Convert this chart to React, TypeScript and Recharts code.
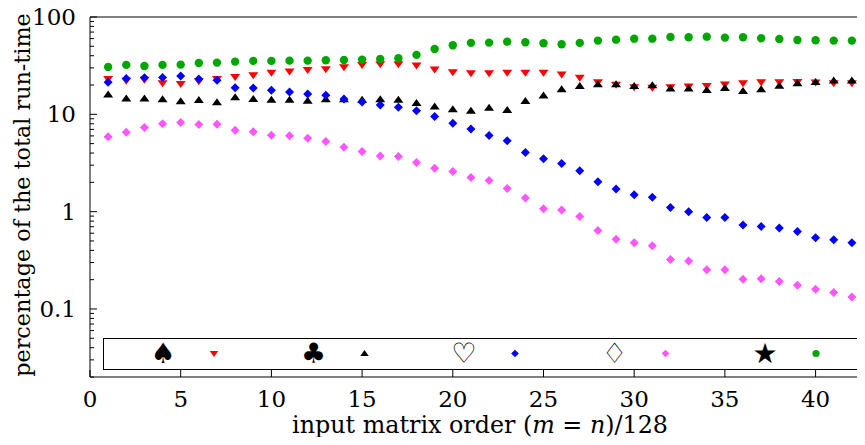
import { ScatterChart, Scatter, XAxis, YAxis, Legend } from 'recharts';

// matrix order (m = n) / 128
const matrixOrder = [
  1, 2, 3, 4, 5, 6, 7, 8, 9, 10, 11, 12, 13, 14, 15, 16, 17, 18, 19, 20, 21,
  22, 23, 24, 25, 26, 27, 28, 29, 30, 31, 32, 33, 34, 35, 36, 37, 38, 39, 40, 41, 42,
];

// percentage of the total run-time, one list per phase
const spadeShare = [
  23.0, 22.1, 22.6, 20.9, 20.5, 21.9, 23.0, 24.2, 25.2, 26.8, 27.5, 28.6, 29.1, 30.5, 32.2, 32.7, 32.7, 31.7, 28.8, 27.1, 26.5,
  26.5, 26.8, 26.8, 26.7, 25.6, 23.7, 21.4, 20.1, 19.0, 18.8, 19.0, 19.3, 19.6, 20.2, 20.9, 21.4, 21.4, 21.5, 21.2, 20.9, 20.9,
];
const clubShare = [
  16.0, 14.5, 14.5, 14.3, 13.65, 14.0, 13.3, 15.0, 14.4, 14.1, 14.1, 13.8, 14.3, 14.3, 14.1, 14.3, 14.1, 13.1, 12.0, 11.3, 10.9,
  11.7, 11.1, 13.7, 15.6, 18.1, 19.6, 20.4, 20.4, 19.6, 19.9, 18.4, 18.4, 17.8, 18.6, 17.4, 18.1, 19.7, 20.9, 21.5, 22.2, 22.2,
];
const heartShare = [
  21.4, 23.3, 23.7, 23.9, 24.8, 23.0, 22.4, 18.8, 18.6, 17.7, 17.0, 16.2, 15.7, 14.4, 13.4, 12.5, 11.85, 10.9, 9.5, 8.1, 7.05,
  6.05, 5.34, 4.05, 3.49, 3.12, 2.63, 2.03, 1.71, 1.49, 1.41, 1.10, 1.00, 0.872, 0.872, 0.729, 0.705, 0.679, 0.627, 0.540, 0.515, 0.480,
];
const diamondShare = [
  5.87, 6.56, 7.31, 7.98, 8.23, 7.85, 7.93, 6.88, 6.61, 6.11, 6.01, 5.69, 5.25, 4.60, 4.15, 3.72, 3.69, 3.20, 2.80, 2.59, 2.24,
  2.09, 1.73, 1.38, 1.07, 1.04, 0.893, 0.641, 0.519, 0.480, 0.447, 0.323, 0.311, 0.253, 0.253, 0.2015, 0.205, 0.192, 0.175, 0.159, 0.148, 0.133,
];
const starShare = [
  30.7, 32.2, 31.4, 32.2, 32.4, 33.7, 34.0, 34.8, 35.4, 35.4, 35.6, 35.6, 36.0, 36.2, 36.5, 37.1, 37.7, 40.8, 47.0, 51.3, 54.2,
  54.5, 55.8, 55.1, 53.8, 52.5, 54.2, 57.2, 58.5, 59.9, 59.9, 62.4, 62.0, 62.8, 61.4, 62.0, 60.5, 59.5, 58.1, 57.7, 57.2, 57.2,
];

const xTicks = [0, 5, 10, 15, 20, 25, 30, 35, 40];
const yMajor = [0.1, 1, 10, 100];
const yTicks = [
  0.02, 0.03, 0.04, 0.05, 0.06, 0.07, 0.08, 0.09,
  0.1, 0.2, 0.3, 0.4, 0.5, 0.6, 0.7, 0.8, 0.9,
  1, 2, 3, 4, 5, 6, 7, 8, 9,
  10, 20, 30, 40, 50, 60, 70, 80, 90, 100,
];

const SERIF = '"DejaVu Serif", "Liberation Serif", serif';
const FS = 23;

const toPoints = (vals: number[]) => vals.map((v, i) => ({ x: matrixOrder[i], y: v }));

// marker shapes (gnuplot-ish point types)
const downTri = (color: string, s = 1) => (p: any) => (
  <polygon points={`${p.cx - 5 * s},${p.cy - 3 * s} ${p.cx + 5 * s},${p.cy - 3 * s} ${p.cx},${p.cy + 4 * s}`} fill={color} />
);
const upTri = (color: string, s = 1) => (p: any) => (
  <polygon points={`${p.cx - 5 * s},${p.cy + 3 * s} ${p.cx + 5 * s},${p.cy + 3 * s} ${p.cx},${p.cy - 4 * s}`} fill={color} />
);
const diamond = (color: string, s = 1) => (p: any) => (
  <polygon points={`${p.cx},${p.cy - 4.5 * s} ${p.cx + 4.5 * s},${p.cy} ${p.cx},${p.cy + 4.5 * s} ${p.cx - 4.5 * s},${p.cy}`} fill={color} />
);
const dot = (color: string, s = 1) => (p: any) => <circle cx={p.cx} cy={p.cy} r={4.2 * s} fill={color} />;

const series = [
  { name: '♠', data: spadeShare, color: '#ff0000', shape: downTri },
  { name: '♣', data: clubShare, color: '#000000', shape: upTri },
  { name: '♡', data: heartShare, color: '#0000ff', shape: diamond },
  { name: '♢', data: diamondShare, color: '#ff55ff', shape: diamond },
  { name: '★', data: starShare, color: '#00a600', shape: dot },
];

function LeftTick({ x, y, payload }: any) {
  const major = yMajor.includes(payload.value);
  return (
    <g>
      <line x1={x} x2={x + (major ? 7 : 4)} y1={y} y2={y} stroke="#000" />
      {major && (
        <text x={x - 14} y={y + 8} textAnchor="end" fontFamily={SERIF} fontSize={FS} fill="#000">
          {String(payload.value)}
        </text>
      )}
    </g>
  );
}

function RightTick({ x, y, payload }: any) {
  const major = yMajor.includes(payload.value);
  return <line x1={x} x2={x - (major ? 7 : 4)} y1={y} y2={y} stroke="#000" />;
}

function BottomTick({ x, y, payload }: any) {
  return (
    <g>
      <line x1={x} x2={x} y1={y} y2={y - 7} stroke="#000" />
      <text x={x} y={y + 30} textAnchor="middle" fontFamily={SERIF} fontSize={FS} fill="#000">
        {payload.value}
      </text>
    </g>
  );
}

function TopTick({ x, y }: any) {
  return <line x1={x} x2={x} y1={y} y2={y + 7} stroke="#000" />;
}

// legend keeps the plotting order of the series
function LegendBox() {
  return (
    <svg width={756} height={33} style={{ display: 'block' }}>
      <rect x={0.5} y={0.5} width={754} height={31} fill="#fff" stroke="#000" />
      {series.map((s, i) => {
        const Marker = s.shape(s.color, 0.85);
        return (
          <g key={s.name}>
            <text x={60 + 150.5 * i} y={25} textAnchor="middle" fontFamily='"DejaVu Sans", sans-serif' fontSize={28} fill="#000">
              {s.name}
            </text>
            <Marker cx={111 + 150.5 * i} cy={15.5} />
          </g>
        );
      })}
    </svg>
  );
}

export default function App() {
  return (
    <div style={{ margin: -8, width: 865, height: 445, overflow: 'hidden', background: '#fff' }}>
      <ScatterChart width={880} height={445} margin={{ top: 16, right: 9, bottom: 8, left: 0 }}>
        <XAxis
          xAxisId="b"
          type="number"
          dataKey="x"
          domain={[0, 43]}
          ticks={xTicks}
          interval={0}
          height={60}
          tickSize={0}
          tickMargin={0}
          tickLine={false}
          axisLine={{ stroke: '#000' }}
          tick={<BottomTick />}
          label={{
            content: (props: any) => {
              const vb = props.viewBox;
              return (
                <text x={vb.x + vb.width / 2} y={vb.y + 56} textAnchor="middle" fontFamily={SERIF} fontSize={23.8} fill="#000">
                  input matrix order (<tspan fontStyle="italic">m</tspan> = <tspan fontStyle="italic">n</tspan>)/128
                </text>
              );
            },
          }}
        />
        <XAxis
          xAxisId="t"
          orientation="top"
          type="number"
          dataKey="x"
          domain={[0, 43]}
          ticks={xTicks}
          interval={0}
          height={1}
          tickSize={0}
          tickMargin={0}
          tickLine={false}
          axisLine={{ stroke: '#000' }}
          tick={<TopTick />}
        />
        <YAxis
          yAxisId="l"
          type="number"
          dataKey="y"
          scale="log"
          domain={[0.02, 100]}
          allowDataOverflow
          ticks={yTicks}
          interval={0}
          width={90}
          tickSize={0}
          tickMargin={0}
          tickLine={false}
          axisLine={{ stroke: '#000' }}
          tick={<LeftTick />}
          label={{
            content: (props: any) => {
              const vb = props.viewBox;
              const cy = vb.y + vb.height / 2 - 2;
              return (
                <text x={30} y={cy} transform={`rotate(-90 30 ${cy})`} textAnchor="middle" fontFamily={SERIF} fontSize={22.3} fill="#000">
                  percentage of the total run-time
                </text>
              );
            },
          }}
        />
        <YAxis
          yAxisId="r"
          orientation="right"
          type="number"
          dataKey="y"
          scale="log"
          domain={[0.02, 100]}
          allowDataOverflow
          ticks={yTicks}
          interval={0}
          width={1}
          tickSize={0}
          tickMargin={0}
          tickLine={false}
          axisLine={{ stroke: '#000' }}
          tick={<RightTick />}
        />
        <Legend
          layout="horizontal"
          verticalAlign="middle"
          align="center"
          wrapperStyle={{ position: 'absolute', left: 103, top: 338, width: 756, height: 33 }}
          content={<LegendBox />}
        />
        {series.map((s) => (
          <Scatter
            key={s.name}
            name={s.name}
            xAxisId="b"
            yAxisId="l"
            data={toPoints(s.data)}
            fill={s.color}
            shape={s.shape(s.color)}
            isAnimationActive={false}
          />
        ))}
      </ScatterChart>
    </div>
  );
}
